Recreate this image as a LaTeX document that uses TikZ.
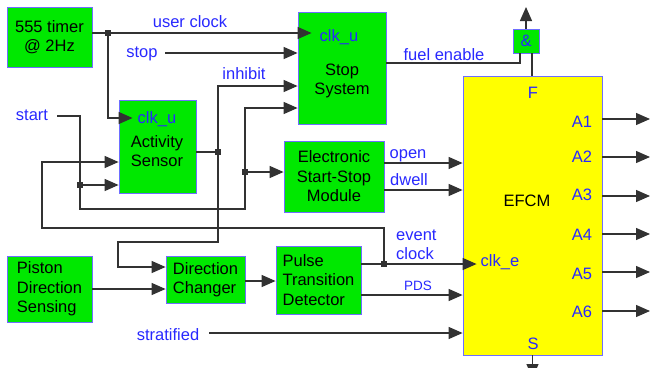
\documentclass[tikz,border=0pt]{standalone}
\usepackage{fontspec}
\setmainfont{Liberation Sans}
\usetikzlibrary{arrows.meta}

\definecolor{blkgreen}{RGB}{0,232,0}
\definecolor{blkedge}{RGB}{110,110,255}
\definecolor{efcmyellow}{RGB}{255,255,0}
\definecolor{sigblue}{RGB}{40,40,255}
\definecolor{wiregray}{RGB}{50,50,50}

\begin{document}
\begin{tikzpicture}[x=1pt,y=-1pt,
  blk/.style={draw=blkedge, fill=blkgreen, line width=0.8pt, inner sep=0pt,
              font=\fontsize{16.5}{19.5}\selectfont},
  txt/.style={font=\fontsize{16.5}{19.5}\selectfont, align=center, inner sep=0pt},
  sig/.style={text=sigblue, font=\fontsize{16.5}{19}\selectfont, inner sep=0pt, anchor=base},
  wire/.style={draw=wiregray, line width=1.3pt},
  arr/.style={wire, -{Triangle[length=14pt,width=12pt]}},
  clk/.style={arr, shorten >=-14pt},
  jn/.style={fill=wiregray, inner sep=0pt, minimum size=5.5pt}]
\useasboundingbox (0,0) rectangle (650,367);
\clip (0,0) rectangle (650,367);

% blocks
\node [blk, minimum width=85pt, minimum height=60pt, align=center] (timer) at (49.5,37) {555 timer\\@ 2Hz};
\node [blk, minimum width=88pt, minimum height=112pt] (stop) at (342,68) {};
\node [txt] (stoptxt) at (342,81) {Stop\\System};
\node [blk, minimum width=77pt, minimum height=93pt] (act) at (157.5,146.5) {};
\node [txt] (acttxt) at (157,151) {Activity\\Sensor};
\node [blk, minimum width=100pt, minimum height=71pt, align=center] (ess) at (334,176.5) {Electronic\\Start-Stop\\Module};
\node [blk, fill=efcmyellow, minimum width=139pt, minimum height=279pt] (efcm) at (532.5,215.5) {};
\node [txt, anchor=base] (efcmtxt) at (527,206) {EFCM};
\node [blk, minimum width=26pt, minimum height=24pt, text=sigblue] (gate) at (526,41) {\&};
\node [blk, minimum width=85pt, minimum height=66pt, align=left] (piston) at (49.5,289) {Piston\\Direction\\Sensing};
\node [blk, minimum width=79pt, minimum height=47pt, align=left] (dirc) at (205.5,279.5) {Direction\\Changer};
\node [blk, minimum width=85pt, minimum height=68pt, align=left] (ptd) at (318.5,280) {Pulse\\Transition\\Detector};

% port labels
\node [sig] (stopclk) at (339,41) {clk\_u};
\node [sig] (actclk) at (157,123) {clk\_u};
\node [sig] (efcmf) at (533,98) {F};
\node [sig] (efcmclk) at (500,266) {clk\_e};
\node [sig] (efcms) at (533,349) {S};

% signal labels
\node [sig] (luser) at (190,27) {user clock};
\node [sig] (lstop) at (142,57) {stop};
\node [sig] (linh) at (244,79) {inhibit};
\node [sig] (lstart) at (32,120) {start};
\node [sig] (lfuel) at (444,60) {fuel enable};
\node [sig] (lopen) at (408,158) {open};
\node [sig] (ldwell) at (409,185) {dwell};
\node [sig, align=left, anchor=base west] (levent) at (396,259) {event\\clock};
\node [sig, font=\fontsize{13.5}{15}\selectfont] (lpds) at (418,290) {PDS};
\node [sig] (lstrat) at (168,340) {stratified};

% free ends
\coordinate (stopin) at (165,53);
\coordinate (startin) at (57,116);
\coordinate (stratin) at (209,333);
\coordinate (gout) at (526,7);
\coordinate (sout) at (532.5,378);
\coordinate (g1) at ([xshift=-6pt]gate.south);
\coordinate (g2) at ([xshift=6pt]gate.south);

% junctions
\node [jn] (j1) at (108,33) {};
\node [jn] (j2) at (218,152) {};
\node [jn] (j3) at (80,185) {};
\node [jn] (j4) at (245,172) {};
\node [jn] (j5) at (384,264) {};

% user clock
\draw [clk] (timer.east |- 0,33) -- (stop.west |- 0,33);
\draw [clk] (j1.center) |- (act.west |- 0,118);
% stop
\draw [arr] (stopin) -- (stop.west |- 0,53);
% inhibit
\draw [wire] (act.east |- 0,152) -- (j2.center);
\draw [arr] (j2.center) |- (stop.west |- 0,86);
\draw [arr] (j2.center) -- (218,242) -- (118,242) -- (118,267) -- (dirc.west |- 0,267);
% start
\draw [wire] (startin) -| (j3.center);
\draw [arr] (j3.center) -- (act.west |- 0,185);
\draw [arr] (j3.center) -- (80,209) -| (245,108) -- (stop.west |- 0,108);
\draw [arr] (j4.center) -- (ess.west |- 0,172);
% event clock
\draw [clk] (ptd.east |- 0,264) -- (efcm.west |- 0,264);
\draw [arr] (j5.center) -- (384,228) -| (42,162) -- (act.west |- 0,162);
% PDS
\draw [arr] (ptd.east |- 0,295) -- (efcm.west |- 0,295);
\draw [arr] (piston.east |- 0,289) -- (dirc.west |- 0,289);
\draw [arr] (dirc.east |- 0,281) -- (ptd.west |- 0,281);
\draw [arr] (stratin) -- (efcm.west |- 0,333);
% open / dwell
\draw [arr] (ess.east |- 0,163) -- (efcm.west |- 0,163);
\draw [arr] (ess.east |- 0,190) -- (efcm.west |- 0,190);
% fuel enable
\draw [wire] (stop.east |- 0,63) -| (g1);
\draw [wire] (g2 |- efcm.north) -- (g2);
\draw [arr] (gate.north) -- (gout);
\draw [arr] (efcm.south) -- (sout);
% outputs
\foreach \n/\y/\b in {1/119/127,2/157/162,3/196/200,4/234/240,5/272/279,6/311/317} {
  \coordinate (out\n) at (650,\y);
  \draw [arr] (efcm.east |- 0,\y) -- (out\n);
  \node [sig] (la\n) at (582,\b) {A\n};
}
\end{tikzpicture}
\end{document}
